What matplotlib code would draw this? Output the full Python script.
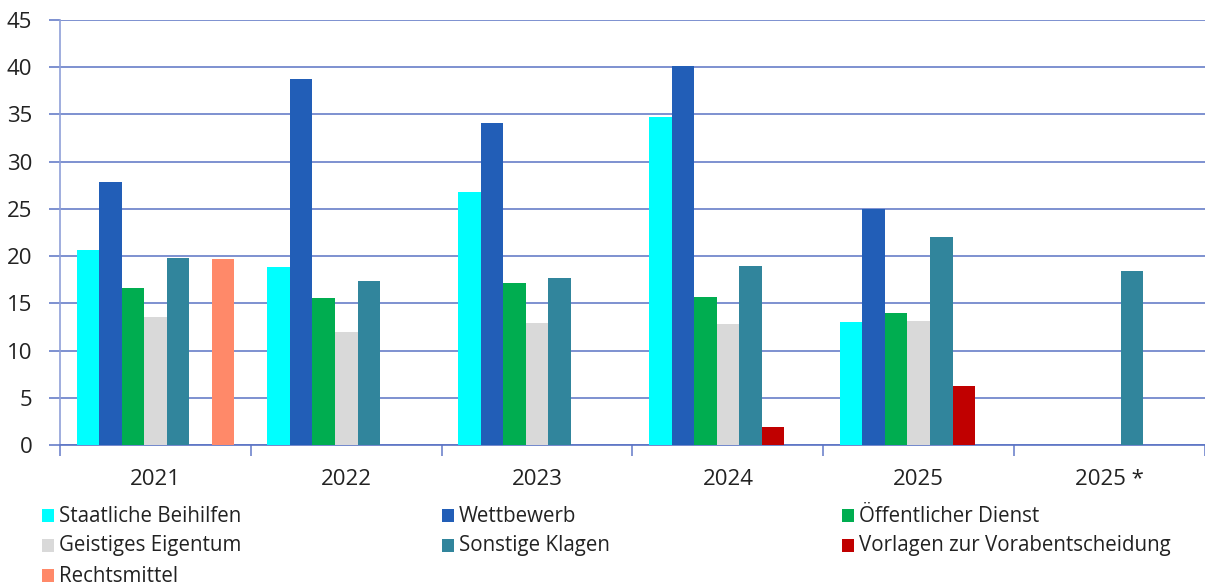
import matplotlib
matplotlib.use("Agg")
import matplotlib.pyplot as plt
import numpy as np
from matplotlib.patches import Rectangle

plt.rcParams['font.family'] = ['Open Sans', 'DejaVu Sans']

categories = ["2021", "2022", "2023", "2024", "2025", "2025 *"]
series_names = ["Staatliche Beihilfen", "Wettbewerb", "Öffentlicher Dienst",
                "Geistiges Eigentum", "Sonstige Klagen",
                "Vorlagen zur Vorabentscheidung", "Rechtsmittel"]
staatliche = [20.6, 18.9, 26.8, 34.7, 13.0, np.nan]
wettbewerb = [27.8, 38.8, 34.1, 40.1, 25.0, np.nan]
oeffentlich = [16.6, 15.6, 17.2, 15.7, 14.0, np.nan]
geistig = [13.6, 12.0, 12.9, 12.8, 13.1, np.nan]
sonstige = [19.8, 17.4, 17.7, 19.0, 22.0, 18.4]
vorlagen = [np.nan, np.nan, np.nan, 1.9, 6.2, np.nan]
rechtsmittel = [19.7, np.nan, np.nan, np.nan, np.nan, np.nan]
colors = ["#00FFFF", "#225EB7", "#00AD50", "#D9D9D9", "#31859C", "#C00000", "#FF8969"]
values = [staatliche, wettbewerb, oeffentlich, geistig, sonstige, vorlagen, rechtsmittel]

W, H = 1205, 587
fig = plt.figure(figsize=(W/100, H/100), dpi=100)
ax = fig.add_axes([60/W, 1-445/H, 1-60/W, (445-20)/H])

x = np.arange(len(categories))
nser = len(values)
bw = 0.118
start = -nser*bw/2
for i, (vals, c) in enumerate(zip(values, colors)):
    ax.bar(x + start + (i+0.5)*bw, vals, width=bw, color=c, zorder=3, linewidth=0)

ax.set_xlim(-0.5, len(categories)-0.5)
ax.set_ylim(0, 45)
ax.set_yticks(np.arange(0, 46, 5))
grid_c = "#5a73c4"
ax.yaxis.grid(True, color=grid_c, linewidth=1.1, zorder=0)
ax.set_xticks(x)
ax.set_xticklabels(categories)
ax.set_xticks(np.arange(-0.5, len(categories), 1), minor=True)
ax.tick_params(axis='x', which='major', length=0, pad=17, labelsize=16, labelcolor="#222222")
ax.tick_params(axis='x', which='minor', length=8, color="#6f84cc", width=1.2, direction='out')
ax.tick_params(axis='y', length=8, color=grid_c, width=1.1, pad=12, labelsize=16, labelcolor="#222222")
for s in ['top', 'right']:
    ax.spines[s].set_visible(False)
ax.spines['left'].set_color("#8fa0d8")
ax.spines['left'].set_linewidth(1.2)
ax.spines['bottom'].set_color(grid_c)
ax.spines['bottom'].set_linewidth(1.2)

# legend laid out row-major in three columns
col_x = [42, 442, 842]
row_y = [515, 545, 575]
for i, (name, c) in enumerate(zip(series_names, colors)):
    r, k = divmod(i, 3)
    px, py = col_x[k], row_y[r]
    fig.patches.append(Rectangle((px/W, 1-(py+7)/H), 12/W, 13/H, transform=fig.transFigure,
                                 facecolor=c, edgecolor='none'))
    fig.text((px+17)/W, 1-(py+1)/H, name, fontsize=14.8, color="#222222", va='center', ha='left')

fig.savefig("out.png", dpi=100)
